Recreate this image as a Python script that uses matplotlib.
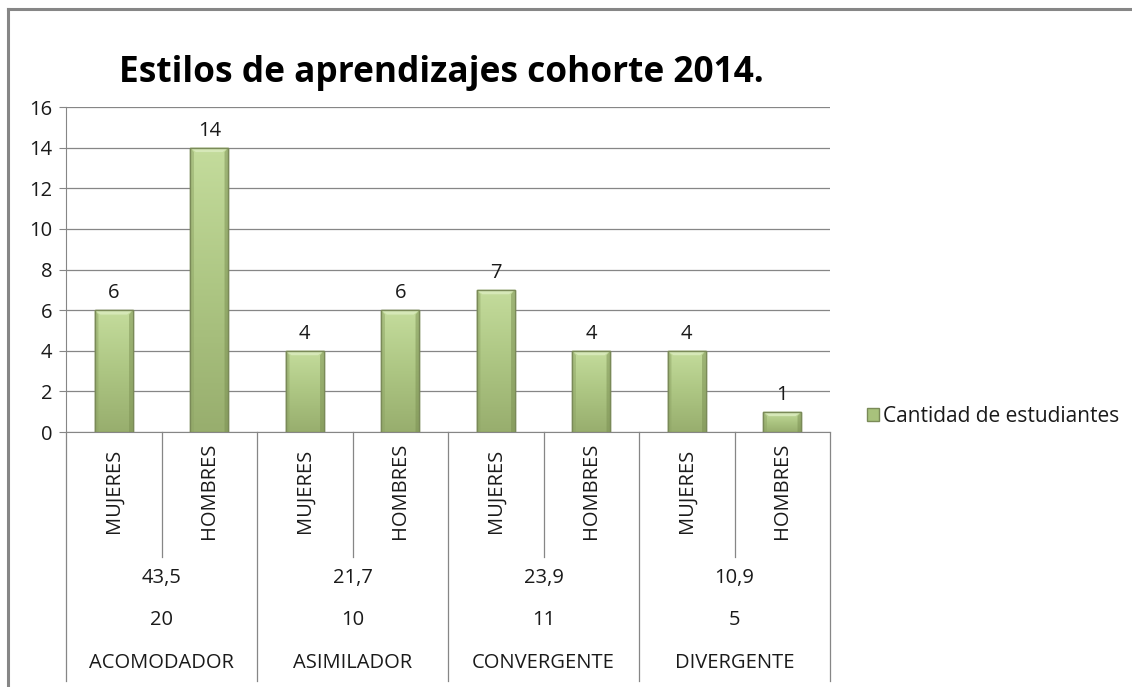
import matplotlib.pyplot as plt
import numpy as np
from matplotlib.patches import Rectangle, Patch
from matplotlib.colors import LinearSegmentedColormap
import matplotlib.transforms as mtransforms

plt.rcParams['font.family'] = ['Open Sans', 'DejaVu Sans']

groups = ['ACOMODADOR', 'ASIMILADOR', 'CONVERGENTE', 'DIVERGENTE']
percents = ['43,5', '21,7', '23,9', '10,9']
totals = ['20', '10', '11', '5']
sexes = ['MUJERES', 'HOMBRES']
values = [6, 14, 4, 6, 7, 4, 4, 1]

W, H = 1132, 687
FS = 14.5
TXT = '#1a1a1a'
fig = plt.figure(figsize=(W / 100, H / 100), dpi=100)

# chart border (only left and top visible in the crop)
fig.add_artist(plt.Line2D([8 / W, 8 / W], [0, 1 - 9 / H], transform=fig.transFigure,
                          color='#868686', lw=2.2))
fig.add_artist(plt.Line2D([8 / W, 1], [1 - 9 / H, 1 - 9 / H], transform=fig.transFigure,
                          color='#868686', lw=2.2))

left, right, top, bottom = 66, 830, 107, 432
ax = fig.add_axes([left / W, 1 - bottom / H, (right - left) / W, (bottom - top) / H])

x = np.arange(len(values))
bars = ax.bar(x, values, width=0.4, color='#aac47e', edgecolor='#7a8a58', linewidth=1.0, zorder=3)

cmap = LinearSegmentedColormap.from_list('g', ['#c4dc9c', '#adc683', '#98ae6e'])
grad = np.linspace(0, 1, 100).reshape(-1, 1)
for b in bars:
    bx, by = b.get_x(), b.get_y()
    bw, bh = b.get_width(), b.get_height()
    im = ax.imshow(grad, cmap=cmap, aspect='auto', extent=(bx, bx + bw, by, by + bh),
                   origin='upper', zorder=3.5)
    im.set_clip_path(b)
    # bevel cap and side shading
    cap = min(0.22, bh * 0.3)
    ax.fill([bx, bx + bw, bx + bw * 0.85, bx + bw * 0.15],
            [by + bh, by + bh, by + bh - cap, by + bh - cap],
            color='#d6e8b8', zorder=3.6, linewidth=0)
    ax.fill([bx, bx + bw * 0.1, bx + bw * 0.1, bx], [by, by, by + bh - cap, by + bh],
            color='#8fa566', alpha=0.5, zorder=3.6, linewidth=0)
    ax.fill([bx + bw, bx + bw * 0.9, bx + bw * 0.9, bx + bw], [by, by, by + bh - cap, by + bh],
            color='#7a8f52', alpha=0.5, zorder=3.6, linewidth=0)
    ax.plot([bx, bx + bw, bx + bw, bx, bx], [by, by, by + bh, by + bh, by],
            color='#7a8a58', lw=1.0, zorder=3.8)
    ax.text(bx + bw / 2, by + bh + 0.35, f'{int(bh)}', ha='center', va='bottom', fontsize=FS, color=TXT)

ax.set_xlim(-0.5, len(values) - 0.5)
ax.set_ylim(0, 16)
ax.set_yticks(range(0, 17, 2))
ax.tick_params(axis='y', labelsize=FS, length=5, color='#868686', pad=5, labelcolor=TXT)
ax.set_xticks([])
ax.grid(axis='y', color='#868686', linewidth=0.9, zorder=0)
for s in ['top', 'right']:
    ax.spines[s].set_visible(False)
ax.spines['left'].set_color('#868686')
ax.spines['bottom'].set_color('#868686')

# multi-level category axis
ph = bottom - top
trans = mtransforms.blended_transform_factory(ax.transData, ax.transAxes)


def ay(py):
    return -(py - bottom) / ph


for i, v in enumerate(values):
    ax.text(i, ay(491), sexes[i % 2], rotation=90, ha='center', va='center', fontsize=FS,
            transform=trans, color=TXT)
for i in range(len(values) + 1):
    end = 681 if i % 2 == 0 else 557
    ax.plot([i - 0.5, i - 0.5], [0, ay(end)], color='#868686', lw=0.9, transform=trans, clip_on=False)
for g in range(len(groups)):
    cx = 2 * g + 0.5
    ax.text(cx, ay(578), percents[g], ha='center', va='center', fontsize=FS, transform=trans, color=TXT)
    ax.text(cx, ay(620), totals[g], ha='center', va='center', fontsize=FS, transform=trans, color=TXT)
    ax.text(cx, ay(663), groups[g], ha='center', va='center', fontsize=FS, transform=trans, color=TXT)

fig.text(441 / W, 1 - 73 / H, 'Estilos de aprendizajes cohorte 2014.', ha='center', va='center',
         fontsize=25.4, fontweight='bold', color='black')

fig.legend(handles=[Patch(facecolor='#a8c27c', edgecolor='#7a8a58', label='Cantidad de estudiantes')],
           loc='center left', bbox_to_anchor=(848 / W, 1 - 416 / H), frameon=False, fontsize=FS + 0.5,
           handlelength=0.6, handleheight=0.6, handletextpad=0.2, labelcolor=TXT)

fig.savefig('out.png', dpi=100, facecolor='white')
